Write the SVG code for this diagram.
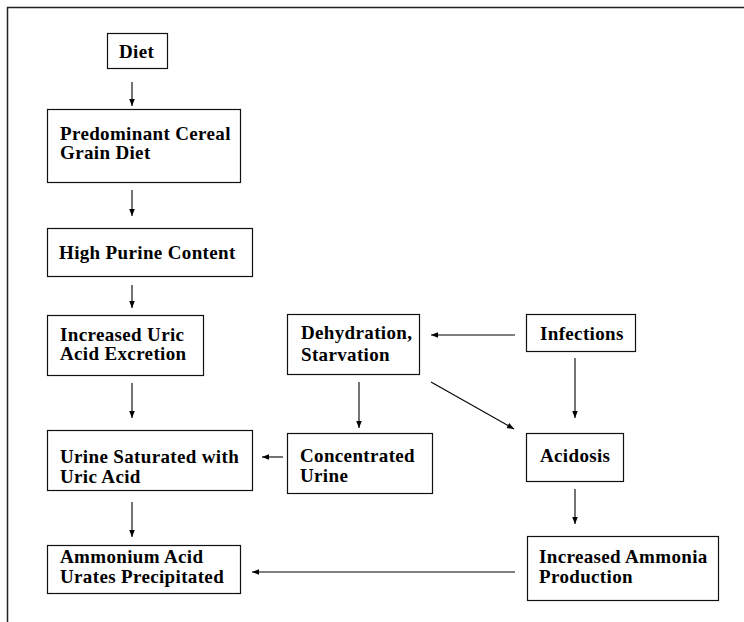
<svg xmlns="http://www.w3.org/2000/svg" width="744" height="622" viewBox="0 0 744 622">
<defs>
<marker id="ah" viewBox="0 0 10 10" refX="10" refY="5" markerWidth="7" markerHeight="7" markerUnits="userSpaceOnUse" orient="auto">
<path d="M0,1 L10,5 L0,9 z" fill="#000"/>
</marker>
<style>
.box{fill:#fff;stroke:#111;stroke-width:1.2}
.t{font-family:"Liberation Serif","Times New Roman",serif;font-weight:bold;font-size:19px;letter-spacing:0.35px;fill:#000}
.c{stroke:#000;stroke-width:1.1;fill:none;marker-end:url(#ah)}
.frame{stroke:#222;stroke-width:1.5;fill:none}
</style>
</defs>
<rect width="744" height="622" fill="#fff"/>
<path class="frame" d="M7.5,622 L7.5,7.5 L744,7.5"/>
<g id="n-diet"><rect class="box" x="107.5" y="33.5" width="60" height="35"/><text class="t" x="119" y="58">Diet</text></g>
<g id="n-cereal"><rect class="box" x="47.5" y="109.5" width="193" height="73"/><text class="t" x="60" y="140">Predominant Cereal</text><text class="t" x="60" y="159">Grain Diet</text></g>
<g id="n-purine"><rect class="box" x="47.5" y="228.5" width="205" height="48"/><text class="t" x="59" y="259">High Purine Content</text></g>
<g id="n-uric"><rect class="box" x="47.5" y="315.5" width="156" height="60"/><text class="t" x="60" y="341">Increased Uric</text><text class="t" x="60" y="360">Acid Excretion</text></g>
<g id="n-saturated"><rect class="box" x="47.5" y="430.5" width="205" height="60"/><text class="t" x="60" y="463">Urine Saturated with</text><text class="t" x="60" y="483">Uric Acid</text></g>
<g id="n-ammonium"><rect class="box" x="47.5" y="545.5" width="193" height="48"/><text class="t" x="60" y="563">Ammonium Acid</text><text class="t" x="60" y="583">Urates Precipitated</text></g>
<g id="n-dehydration"><rect class="box" x="287.5" y="314.5" width="132" height="60"/><text class="t" x="301" y="339">Dehydration,</text><text class="t" x="301" y="361">Starvation</text></g>
<g id="n-infections"><rect class="box" x="526.5" y="314.5" width="109" height="37"/><text class="t" x="540" y="340">Infections</text></g>
<g id="n-concentrated"><rect class="box" x="287.5" y="433.5" width="145" height="60"/><text class="t" x="300" y="462">Concentrated</text><text class="t" x="300" y="482">Urine</text></g>
<g id="n-acidosis"><rect class="box" x="526.5" y="433.5" width="97" height="48"/><text class="t" x="540" y="462">Acidosis</text></g>
<g id="n-ammonia"><rect class="box" x="527.5" y="536.5" width="191" height="64"/><text class="t" x="539" y="563">Increased Ammonia</text><text class="t" x="539" y="583">Production</text></g>
<g id="connectors">
<line class="c" x1="132" y1="82" x2="132" y2="106"/>
<line class="c" x1="132" y1="190" x2="132" y2="216"/>
<line class="c" x1="132" y1="285" x2="132" y2="308"/>
<line class="c" x1="132" y1="383" x2="132" y2="418"/>
<line class="c" x1="132" y1="502" x2="132" y2="537"/>
<line class="c" x1="283" y1="457" x2="262" y2="457"/>
<line class="c" x1="515" y1="572" x2="252" y2="572"/>
<line class="c" x1="515" y1="335" x2="431" y2="335"/>
<line class="c" x1="575" y1="358" x2="575" y2="418"/>
<line class="c" x1="431" y1="382" x2="514" y2="429"/>
<line class="c" x1="359" y1="382" x2="359" y2="428"/>
<line class="c" x1="575" y1="489" x2="575" y2="524"/>
</g>
</svg>
